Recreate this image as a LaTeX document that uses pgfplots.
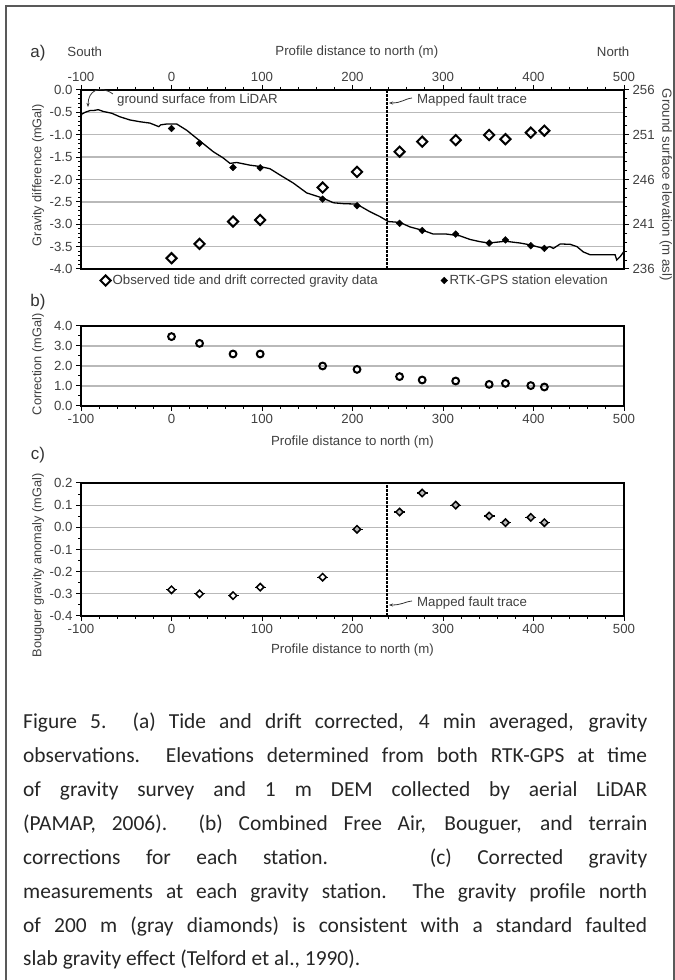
\documentclass[border=0pt]{standalone}
\usepackage{fontspec}
\setmainfont{Liberation Sans}
\newfontfamily\capfont{Carlito}
\usepackage{pgfplots}
\pgfplotsset{compat=1.18}
\usetikzlibrary{arrows.meta}

\newcommand\cf{\fontsize{13.3}{16}\selectfont}
\newcommand\lf{\fontsize{12.8}{15}\selectfont}
\colorlet{txt}{black!75}

\pgfplotsset{
  every axis/.append style={
    scale only axis, width=543bp,
    xmin=-100, xmax=500,
    axis line style={line width=1.3bp, black},
    tick style={line width=1bp, black},
    major tick length=5bp, minor tick length=3bp,
    tick align=outside,
    ticklabel style={font=\cf, text=txt},
    label style={font=\lf, text=txt},
    /pgf/number format/assume math mode=true,
    grid style={gray!55, line width=1.3bp},
  },
  fmt1/.style={yticklabel style={/pgf/number format/.cd, fixed, fixed zerofill, precision=1}},
}

\begin{document}
\begin{tikzpicture}[x=1bp,y=1bp]
\path[use as bounding box] (0,0) rectangle (675,980);
\fill[white] (0,0) rectangle (675,980);
\draw[line width=2bp, black!65] (6,0) -- (6,974) -- (674,974) -- (674,0);

% ---------------- Panel a: gravity ----------------
\begin{axis}[at={(81bp,711bp)}, anchor=south west, height=179bp,
  ymin=-4, ymax=0,
  xtick distance=100, minor x tick num=4, xtick pos=upper, xticklabel pos=upper,
  ytick distance=0.5, minor y tick num=4, ytick pos=left,
  ymajorgrids, fmt1,
  ylabel={Gravity difference (mGal)},
  ylabel style={at={(axis description cs:-0.079,0.525)}, anchor=center},
  xlabel={Profile distance to north (m)},
  xlabel style={font=\cf, at={(axis description cs:0.508,1.212)}, anchor=center},
  legend columns=2,
  legend image post style={xshift=-4bp},
  legend style={at={(axis description cs:0.030,-0.01)}, anchor=north west, draw=none, fill=none,
    font=\cf, text=txt, /tikz/every even column/.append style={column sep=61bp}},
  clip=false,
]
\addplot[forget plot, black, line width=1.3bp, dash pattern=on 2.5bp off 1.5bp] coordinates {(238,-4) (238,0)};
\addplot[only marks, mark=square, mark size=3.6bp, mark options={rotate=45, line width=2bp, fill=white}] coordinates {
(0,-3.76) (31,-3.44) (68,-2.94) (98,-2.905) (167,-2.18) (205,-1.83) (252,-1.38) (277,-1.155) (314,-1.12) (351,-1.006) (369,-1.10) (397,-0.954) (412,-0.909)};
\addlegendentry{Observed tide and drift corrected gravity data}
\addlegendimage{only marks, mark=square*, mark size=2.4bp, mark options={rotate=45}}
\addlegendentry{RTK-GPS station elevation}
\node[font=\cf, text=txt] at (axis description cs:0.007,1.212) {South};
\node[font=\cf, text=txt] at (axis description cs:0.980,1.212) {North};
\end{axis}

% ---------------- Panel a: elevation ----------------
\begin{axis}[at={(81bp,711bp)}, anchor=south west, height=179bp,
  ymin=236, ymax=256,
  axis x line=none, axis y line*=right,
  ytick={236,241,246,251,256}, minor y tick num=4,
  ylabel={Ground surface elevation (m asl)},
  ylabel style={font=\cf, at={(axis description cs:1.077,0.47)}, anchor=center, rotate=180},
]
\addplot[black, line width=1.3bp] coordinates {
(-100,253.0) (-99.2,253.3) (-95.6,253.5) (-90,253.7) (-86.4,253.7) (-80.9,253.8) (-75.4,253.6) (-66,253.4) (-56.9,253.0) (-45.9,252.65) (-34.8,252.45) (-23.8,252.3) (-14,251.9) (-12,252.1) (-5.3,252.2) (5.7,252.2) (16.8,251.5) (27.8,250.6) (35.1,250.0) (46.2,249.1) (57.2,248.4) (64.6,247.8) (72,247.9) (86.7,247.6) (97.8,247.45) (108.8,247.2) (119.9,246.5) (134.6,245.6) (149.4,244.5) (158.6,244.2) (167.8,243.9) (178.8,243.4) (189.9,243.3) (204.6,243.25) (219.3,242.4) (230.4,241.85) (239.6,241.3) (252.5,241.2) (263.5,240.7) (278.2,240.3) (289.3,239.9) (304,239.9) (318.8,239.7) (329.8,239.3) (340.9,239.05) (350.8,238.9) (368.9,239.1) (385.1,238.9) (396.1,238.7) (403.5,238.5) (411.6,238.3) (418.2,238.5) (421.9,238.3) (429.6,238.8) (440.7,238.75) (448,238.5) (455.1,237.9) (462.4,237.6) (480.9,237.6) (490.1,237.6) (492,237.0) (495.9,237.4) (499.5,237.9)};
\addplot[only marks, mark=square*, mark size=2.4bp, mark options={rotate=45}] coordinates {
(0,251.7) (31,250.05) (68,247.35) (98,247.3) (167,243.8) (205,243.07) (252,241.1) (277,240.3) (314,239.9) (351,238.9) (369,239.25) (397,238.6) (412,238.3)};
\end{axis}

% ---------------- Panel b ----------------
\begin{axis}[at={(81bp,574bp)}, anchor=south west, height=80bp,
  ymin=0, ymax=4,
  xtick distance=100, minor x tick num=4, xtick pos=lower,
  ytick distance=1, minor y tick num=1, ytick pos=left,
  ymajorgrids, fmt1,
  xlabel={Profile distance to north (m)},
  xlabel style={font=\cf, at={(axis description cs:0.5,-0.45)}, anchor=center},
  ylabel={Correction (mGal)},
  ylabel style={at={(axis description cs:-0.079,0.52)}, anchor=center},
]
\addplot[only marks, mark=o, mark size=3.4bp, mark options={line width=2bp}] coordinates {
(0,3.47) (31,3.13) (68,2.6) (98,2.6) (167,2.0) (205,1.83) (252,1.47) (277,1.3) (314,1.25) (351,1.08) (369,1.13) (397,1.02) (412,0.95)};
\end{axis}

% ---------------- Panel c ----------------
\begin{axis}[at={(81bp,364bp)}, anchor=south west, height=133bp,
  ymin=-0.4, ymax=0.2,
  xtick distance=100, minor x tick num=4, xtick pos=lower,
  ytick distance=0.1, minor y tick num=1, ytick pos=left,
  ymajorgrids, fmt1,
  xlabel={Profile distance to north (m)},
  xlabel style={font=\cf, at={(axis description cs:0.5,-0.256)}, anchor=center},
  ylabel={Bouguer gravity anomaly (mGal)},
  ylabel style={at={(axis description cs:-0.079,0.38)}, anchor=center},
]
\addplot[black, line width=1.3bp, dash pattern=on 2.5bp off 1.5bp] coordinates {(238,-0.4) (238,0.2)};
\addplot[only marks, mark=-, mark size=5.5bp, mark options={line width=1.2bp}] coordinates {
(0,-0.282) (31,-0.300) (68,-0.308) (98,-0.270) (167,-0.225) (205,-0.009) (252,0.069) (277,0.155) (314,0.100) (351,0.051) (369,0.021) (397,0.045) (412,0.021)};
\addplot[only marks, mark=square*, mark size=2.6bp, mark options={rotate=45, line width=1.5bp, fill=white, draw=black}] coordinates {
(0,-0.282) (31,-0.300) (68,-0.308) (98,-0.270) (167,-0.225)};
\addplot[only marks, mark=square*, mark size=2.6bp, mark options={rotate=45, line width=1.5bp, fill=gray!55, draw=black}] coordinates {
(205,-0.009) (252,0.069) (277,0.155) (314,0.100) (351,0.051) (369,0.021) (397,0.045) (412,0.021)};
\end{axis}

% ---------------- Panel letters and annotations ----------------
\node[font=\fontsize{17}{20}\selectfont, text=black!80] at (38,927) {a)};
\node[font=\fontsize{17}{20}\selectfont, text=black!80] at (38,678) {b)};
\node[font=\fontsize{17}{20}\selectfont, text=black!80] at (38,525) {c)};

\node[font=\cf, text=txt, anchor=west, inner sep=0] at (117,880) {ground surface from LiDAR};
\draw[black!80, line width=0.8bp, -{Stealth[length=4bp,width=3bp]}] (113,886) .. controls (100,895) and (88,890) .. (88,873);

\node[font=\cf, text=txt, anchor=west, inner sep=0] at (417,880) {Mapped fault trace};
\draw[black!80, line width=0.8bp, -{Stealth[length=4bp,width=3bp]}] (412,882) .. controls (404,881) and (402,877) .. (389,877);

\node[font=\cf, text=txt, anchor=west, inner sep=0] at (417,377) {Mapped fault trace};
\draw[black!80, line width=0.8bp, -{Stealth[length=4bp,width=3bp]}] (412,379) .. controls (404,378) and (402,375) .. (389,375);

% ---------------- Caption ----------------
\node[anchor=north west, inner sep=0, text width=624bp, align=justify, text=black!85,
  font=\capfont\fontsize{21.5}{34}\selectfont] at (23,267) {%
Figure 5.\ \ (a) Tide and drift corrected, 4 min averaged, gravity\linebreak
observations.\ \ Elevations determined from both RTK-GPS at time\linebreak
of gravity survey and 1 m DEM collected by aerial LiDAR\linebreak
(PAMAP, 2006).\ \ (b) Combined Free Air, Bouguer, and terrain\linebreak
corrections for each station.\ \ \ \ (c) Corrected gravity\linebreak
measurements at each gravity station.\ \ The gravity profile north\linebreak
of 200 m (gray diamonds) is consistent with a standard faulted\linebreak
slab gravity effect (Telford et al., 1990).};
\end{tikzpicture}
\end{document}
